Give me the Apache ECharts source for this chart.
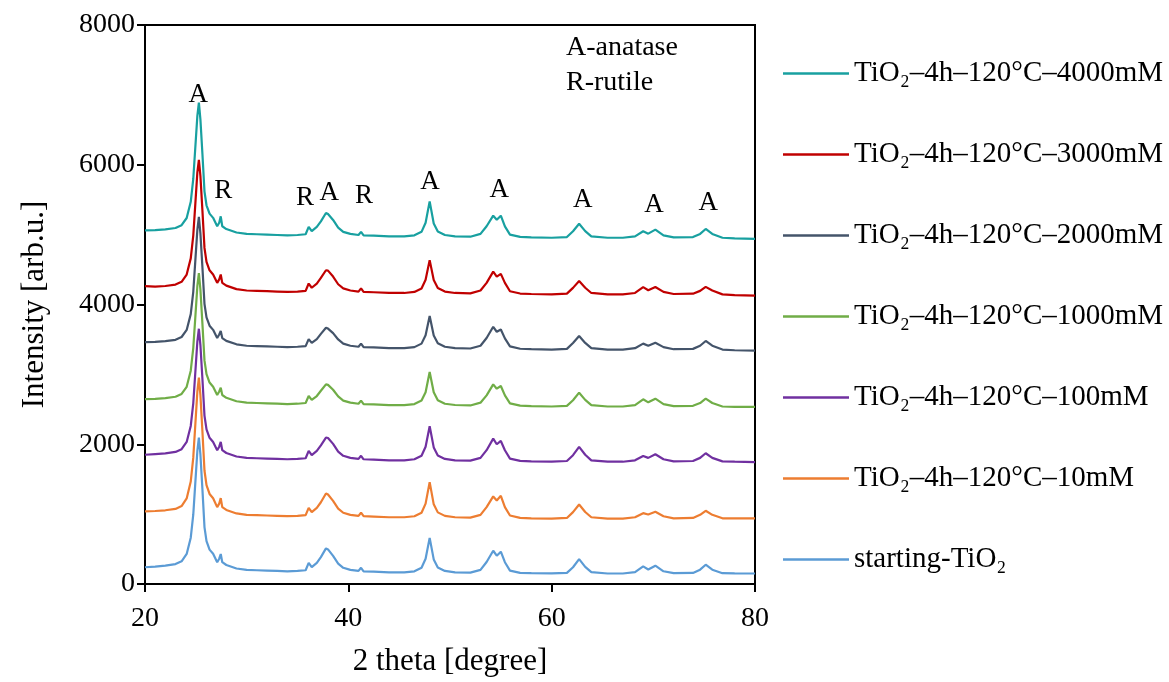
<!DOCTYPE html>
<html>
<head>
<meta charset="utf-8">
<script src="https://cdn.jsdelivr.net/npm/echarts@6/dist/echarts.min.js"></script>
<style>
html,body{margin:0;padding:0;background:#fff;}
#chart{width:1169px;height:682px;}
</style>
</head>
<body>
<div id="chart"></div>
<script>
// 2θ sample positions (degrees)
const twoTheta = [20,21,22,23,23.6,24.1,24.5,24.75,24.95,25.15,
  25.3,25.45,25.65,25.85,26.05,26.35,26.7,27.1,27.3,27.45,
  27.6,28,29,30,31,32,33,34,35,35.8,
  36.1,36.4,36.9,37.3,37.8,38.0,38.5,39.0,39.5,40.2,
  41.0,41.25,41.5,42.5,44,45.5,46.5,47.2,47.6,48.0,
  48.4,48.8,49.5,50.5,52,53.0,53.6,54.25,54.6,55.0,
  55.4,55.9,56.9,58,60,61.5,62.1,62.7,63.3,63.9,
  65.5,67,68.2,69.0,69.5,70.2,71.0,72,73.9,74.6,
  75.15,75.8,76.8,78,80];

const seriesNames = [
  'TiO\u2082\u20134h\u2013120°C\u20134000mM',
  'TiO\u2082\u20134h\u2013120°C\u20133000mM',
  'TiO\u2082\u20134h\u2013120°C\u20132000mM',
  'TiO\u2082\u20134h\u2013120°C\u20131000mM',
  'TiO\u2082\u20134h\u2013120°C\u2013100mM',
  'TiO\u2082\u20134h\u2013120°C\u201310mM',
  'starting-TiO\u2082'
];
const seriesColors = ['#18A0A0','#C00000','#44546A','#70AD47','#7030A0','#ED7D31','#5B9BD5'];

const s4000mM = [5060,5065,5075,5095,5135,5238,5470,5800,6250,6700,
  6890,6650,6150,5620,5420,5300,5240,5120,5170,5262,
  5120,5080,5030,5010,5005,5000,4995,4990,4995,5005,
  5110,5050,5110,5190,5310,5295,5210,5100,5040,5010,
  4995,5040,4990,4985,4975,4975,4990,5040,5170,5476,
  5160,5045,4995,4975,4970,5010,5120,5271,5214,5271,
  5119,5000,4967,4960,4955,4965,5048,5155,5050,4975,
  4955,4955,4975,5048,5014,5071,4990,4960,4965,5010,
  5081,5010,4955,4945,4938];

const s3000mM = [4262,4257,4265,4285,4325,4428,4660,4990,5440,5890,
  6071,5840,5340,4810,4610,4490,4430,4310,4360,4430,
  4310,4270,4220,4200,4195,4190,4185,4180,4185,4195,
  4300,4240,4300,4380,4490,4485,4400,4290,4230,4200,
  4185,4230,4180,4175,4165,4165,4180,4230,4355,4635,
  4350,4235,4185,4165,4160,4200,4310,4471,4400,4438,
  4309,4190,4157,4150,4145,4155,4238,4335,4240,4165,
  4145,4145,4165,4248,4204,4250,4180,4150,4155,4195,
  4252,4200,4145,4135,4128];

const s2000mM = [3462,3465,3475,3495,3535,3636,3862,4186,4627,5068,
  5253,5018,4528,4010,3815,3697,3637,3520,3570,3620,
  3520,3480,3430,3410,3405,3400,3395,3390,3395,3405,
  3505,3450,3505,3580,3667,3655,3590,3500,3440,3410,
  3395,3440,3390,3385,3375,3375,3390,3440,3560,3835,
  3555,3445,3395,3375,3370,3410,3520,3681,3610,3643,
  3515,3400,3367,3360,3355,3365,3448,3550,3450,3375,
  3355,3355,3375,3440,3410,3452,3390,3360,3365,3410,
  3478,3410,3355,3345,3340];

const s1000mM = [2645,2650,2660,2680,2720,2822,3052,3380,3820,4265,
  4450,4215,3720,3200,3003,2883,2823,2705,2755,2810,
  2705,2665,2615,2595,2590,2585,2580,2575,2580,2590,
  2690,2635,2690,2765,2857,2850,2780,2685,2625,2595,
  2580,2625,2575,2570,2560,2560,2575,2625,2745,3033,
  2745,2630,2580,2562,2555,2595,2700,2857,2795,2833,
  2700,2585,2552,2545,2540,2550,2630,2738,2635,2560,
  2540,2540,2560,2643,2600,2652,2575,2545,2550,2590,
  2652,2590,2540,2535,2535];

const s100mM = [1850,1860,1870,1890,1930,2033,2262,2590,3030,3470,
  3653,3420,2930,2410,2213,2093,2033,1915,1965,2033,
  1915,1875,1825,1805,1800,1795,1790,1785,1790,1800,
  1905,1845,1905,1985,2096,2090,2005,1895,1835,1805,
  1790,1835,1785,1780,1770,1770,1785,1835,1965,2258,
  1955,1840,1790,1770,1765,1805,1915,2081,2000,2047,
  1914,1795,1762,1755,1750,1760,1843,1962,1850,1770,
  1750,1750,1770,1833,1805,1857,1785,1755,1760,1805,
  1871,1805,1755,1750,1745];

const s10mM = [1038,1045,1055,1075,1115,1224,1467,1812,2282,2752,
  2953,2702,2179,1624,1415,1289,1227,1100,1150,1229,
  1100,1060,1010,990,985,980,975,970,975,985,
  1090,1030,1090,1170,1295,1280,1190,1080,1020,990,
  975,1020,970,965,955,955,970,1020,1150,1458,
  1140,1025,975,955,950,990,1100,1253,1195,1262,
  1100,980,947,940,935,945,1028,1138,1030,955,
  935,935,955,1014,995,1033,970,940,945,990,
  1048,990,940,940,938];

const sStarting = [240,250,262,285,325,430,662,995,1450,1904,
  2096,1854,1350,815,613,492,432,312,362,429,
  312,272,222,202,197,192,187,182,187,197,
  302,242,302,385,510,495,402,292,232,202,
  187,232,182,177,167,167,182,232,362,660,
  352,237,187,167,162,202,315,476,405,462,
  312,192,160,155,152,160,240,357,245,170,
  150,150,170,252,208,262,182,155,158,205,
  276,205,155,152,150];

const seriesValues = [s4000mM, s3000mM, s2000mM, s1000mM, s100mM, s10mM, sStarting];

// peak annotations (phase letters) in data coordinates
const peakLabelText = ['A','R','R','A','R','A','A','A','A','A'];
const peakLabelX = [25.24,27.7,35.74,38.13,41.54,48.03,54.85,63.05,70.07,75.41];
const peakLabelY = [7000,5619,5524,5596,5547,5761,5643,5500,5429,5453];

const xTicks = [20,40,60,80];
const yTicks = [0,2000,4000,6000,8000];

const FONT = "'Liberation Serif','Times New Roman','DejaVu Serif',serif";

const chart = echarts.init(document.getElementById('chart'), null, {renderer:'canvas'});

const lineSeries = seriesNames.map((name, k) => ({
  name: name,
  type: 'line',
  data: twoTheta.map((x, i) => [x, seriesValues[k][i]]),
  showSymbol: false,
  symbol: 'none',
  smooth: false,
  lineStyle: {width: 2.2, color: seriesColors[k]},
  itemStyle: {color: seriesColors[k]},
  z: 2 + k,
  animation: false
}));

const labelSeries = {
  name: 'peaks',
  type: 'scatter',
  symbolSize: 1,
  silent: true,
  itemStyle: {opacity: 0},
  data: peakLabelX.map((x, i) => ({value: [x, peakLabelY[i]], name: peakLabelText[i]})),
  label: {
    show: true, position: 'inside', formatter: p => p.name,
    fontFamily: FONT, fontSize: 27, color: '#000', opacity: 1
  },
  z: 20
};

chart.setOption({
  animation: false,
  backgroundColor: '#fff',
  grid: {left: 145, right: 414, top: 25, bottom: 97, show: true, borderColor: '#000', borderWidth: 2},
  xAxis: {
    type: 'value', min: xTicks[0], max: xTicks[xTicks.length-1], interval: 20,
    name: '2 theta [degree]', nameLocation: 'middle', nameGap: 62,
    nameTextStyle: {fontFamily: FONT, fontSize: 31, color: '#000'},
    axisLine: {show: true, onZero: false, lineStyle: {color: '#000', width: 2}},
    axisTick: {show: true, inside: false, length: 8, lineStyle: {color: '#000', width: 2}},
    axisLabel: {fontFamily: FONT, fontSize: 28, color: '#000', margin: 21, formatter: v => String(v)},
    splitLine: {show: false}
  },
  yAxis: {
    type: 'value', min: yTicks[0], max: yTicks[yTicks.length-1], interval: 2000,
    name: 'Intensity [arb.u.]', nameLocation: 'middle', nameGap: 95, nameRotate: 90,
    nameTextStyle: {fontFamily: FONT, fontSize: 31, color: '#000'},
    axisLine: {show: true, onZero: false, lineStyle: {color: '#000', width: 2}},
    axisTick: {show: true, inside: false, length: 8, lineStyle: {color: '#000', width: 2}},
    axisLabel: {fontFamily: FONT, fontSize: 28, color: '#000', margin: 10, formatter: v => String(v)},
    splitLine: {show: false}
  },
  legend: {
    data: seriesNames,
    orient: 'vertical',
    left: 778, top: 54,
    icon: 'rect',
    itemWidth: 66, itemHeight: 2.5,
    itemGap: 52,
    textStyle: {fontFamily: FONT, fontSize: 29, color: '#000', lineHeight: 28},
    selectedMode: false
  },
  graphic: [
    {type: 'text', x: 566, y: 48, style: {text: 'A-anatase', font: "28px " + FONT, fill: '#000', verticalAlign: 'middle', align: 'left'}},
    {type: 'text', x: 566, y: 83, style: {text: 'R-rutile', font: "28px " + FONT, fill: '#000', verticalAlign: 'middle', align: 'left'}}
  ],
  series: lineSeries.concat([labelSeries])
});
</script>
</body>
</html>
